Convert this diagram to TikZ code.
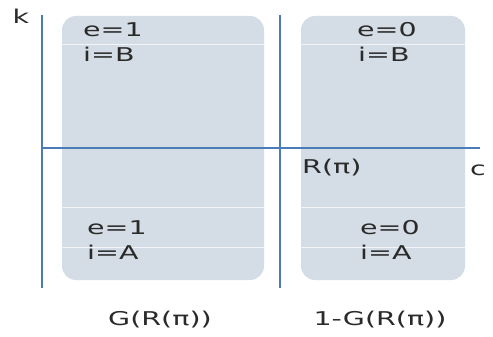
\documentclass[tikz,border=0pt]{standalone}
\usepackage{fontspec}
\setmainfont[FakeStretch=1.5]{DejaVu Sans}
\begin{document}
\begin{tikzpicture}[x=1pt,y=-1pt,
  region/.style={fill=boxfill,draw=none,rounded corners=14pt},
  axis/.style={draw=axisblue,line width=2.8pt},
  haxis/.style={draw=axisblue,line width=1.8pt},
  lbl/.style={text=textgray,font=\fontsize{19}{21}\selectfont,inner sep=0pt},
  grid/.style={draw=white,line width=0.6pt,opacity=0.7}]
\definecolor{boxfill}{HTML}{D4DDE6}
\definecolor{axisblue}{HTML}{4A7DB8}
\definecolor{textgray}{HTML}{2A2A2A}
\useasboundingbox (0,0) rectangle (493,337);
\fill[white] (0,0) rectangle (493,337);
% regions
\path[region] (62,16) rectangle (264,280);
\path[region] (301,16) rectangle (465,280);
\foreach \yy in {44,207,247}{
  \draw[grid] (62,\yy) -- (264,\yy);
  \draw[grid] (301,\yy) -- (465,\yy);
}
% axes
\coordinate (k0) at (42,15);
\coordinate (k1) at (42,288);
\coordinate (m0) at (280,15);
\coordinate (m1) at (280,288);
\coordinate (c0) at (42,148);
\coordinate (c1) at (480,148);
\draw[axis] (k0) -- (k1);
\draw[axis] (m0) -- (m1);
\draw[haxis] (c0) -- (c1);
% labels
\node[lbl] (k) at (21,16) {k};
\node[lbl] (c) at (478,170) {c};
\node[lbl,anchor=west] (r) at (302,168) {R(π)};
\node[lbl,anchor=west] (e1t) at (83,30) {e=1};
\node[lbl,anchor=west] (i1t) at (83,54) {i=B};
\node[lbl,anchor=west] (e0t) at (357,30) {e=0};
\node[lbl,anchor=west] (i0t) at (358,54) {i=B};
\node[lbl,anchor=west] (e1b) at (87,228) {e=1};
\node[lbl,anchor=west] (i1b) at (87,252) {i=A};
\node[lbl,anchor=west] (e0b) at (360,228) {e=0};
\node[lbl,anchor=west] (i0b) at (360,252) {i=A};
\node[lbl] (g) at (160,320) {G(R(π))};
\node[lbl] (g1) at (380,320) {1-G(R(π))};
\end{tikzpicture}
\end{document}
